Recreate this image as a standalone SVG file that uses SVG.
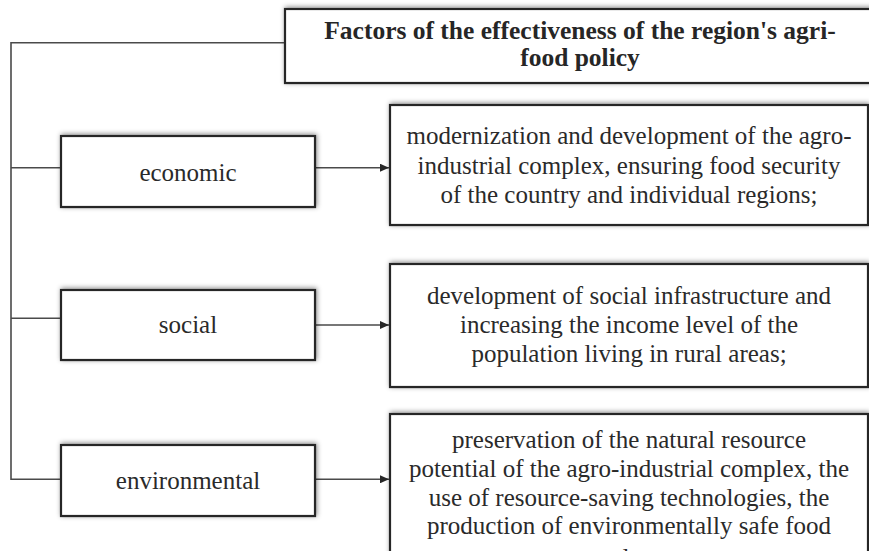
<svg xmlns="http://www.w3.org/2000/svg" width="869" height="551" viewBox="0 0 869 551">
<style>
.box{fill:#fff;stroke:#262626;stroke-width:2.2;filter:url(#sh)}
text{font-family:"Liberation Serif","DejaVu Serif","Times New Roman",serif}
.t{font-size:25px;fill:#2a2a2a;text-anchor:middle}
.tb{font-size:25.5px;font-weight:bold;fill:#262626;text-anchor:middle}
.ln{fill:none;stroke:#4a4a4a;stroke-width:1.6}
</style>
<defs>
<filter id="sh" x="-10%" y="-30%" width="120%" height="160%">
<feDropShadow dx="1" dy="-1" stdDeviation="2.5" flood-color="#000" flood-opacity="0.45"/>
</filter>
<marker id="ar" markerWidth="10" markerHeight="8" refX="9" refY="4" orient="auto" markerUnits="userSpaceOnUse">
<path d="M0,0 L9,4 L0,8 Z" fill="#262626"/>
</marker>
</defs>
<rect width="869" height="551" fill="#fff"/>
<g id="connectors">
<path class="ln" d="M285,42.7 H11 V479.3 H61"/>
<path class="ln" d="M11,167.7 H61"/>
<path class="ln" d="M11,318.3 H61"/>
<path class="ln" d="M315,167.7 H389" marker-end="url(#ar)"/>
<path class="ln" d="M315,325 H389" marker-end="url(#ar)"/>
<path class="ln" d="M315,479.3 H389" marker-end="url(#ar)"/>
</g>
<g id="title">
<rect class="box" x="285" y="9" width="600" height="74"/>
<text class="tb" x="580" y="39" font-family="Liberation Serif, serif">Factors of the effectiveness of the region's agri-</text>
<text class="tb" x="580" y="66" font-family="Liberation Serif, serif">food policy</text>
</g>
<g id="economic">
<rect class="box" x="61" y="136" width="254" height="71"/>
<text class="t" x="188" y="180.5" font-family="Liberation Serif, serif">economic</text>
</g>
<g id="social">
<rect class="box" x="61" y="290" width="254" height="70"/>
<text class="t" x="188" y="333" font-family="Liberation Serif, serif">social</text>
</g>
<g id="environmental">
<rect class="box" x="61" y="445" width="254" height="71"/>
<text class="t" x="188" y="489" font-family="Liberation Serif, serif">environmental</text>
</g>
<g id="economic-desc">
<rect class="box" x="390" y="105" width="478" height="120"/>
<text class="t" x="629" y="144" font-family="Liberation Serif, serif">modernization and development of the agro-</text>
<text class="t" x="629" y="173.5" font-family="Liberation Serif, serif">industrial complex, ensuring food security</text>
<text class="t" x="629" y="203" font-family="Liberation Serif, serif">of the country and individual regions;</text>
</g>
<g id="social-desc">
<rect class="box" x="390" y="264" width="478" height="123"/>
<text class="t" x="629" y="304" font-family="Liberation Serif, serif">development of social infrastructure and</text>
<text class="t" x="629" y="333" font-family="Liberation Serif, serif">increasing the income level of the</text>
<text class="t" x="629" y="361.5" font-family="Liberation Serif, serif">population living in rural areas;</text>
</g>
<g id="environmental-desc">
<rect class="box" x="390" y="414" width="478" height="160"/>
<text class="t" x="629" y="448" font-family="Liberation Serif, serif">preservation of the natural resource</text>
<text class="t" x="629" y="477" font-family="Liberation Serif, serif">potential of the agro-industrial complex, the</text>
<text class="t" x="629" y="505.5" font-family="Liberation Serif, serif">use of resource-saving technologies, the</text>
<text class="t" x="629" y="534" font-family="Liberation Serif, serif">production of environmentally safe food</text>
<text class="t" x="629" y="566" font-family="Liberation Serif, serif">products.</text>
</g>
</svg>
